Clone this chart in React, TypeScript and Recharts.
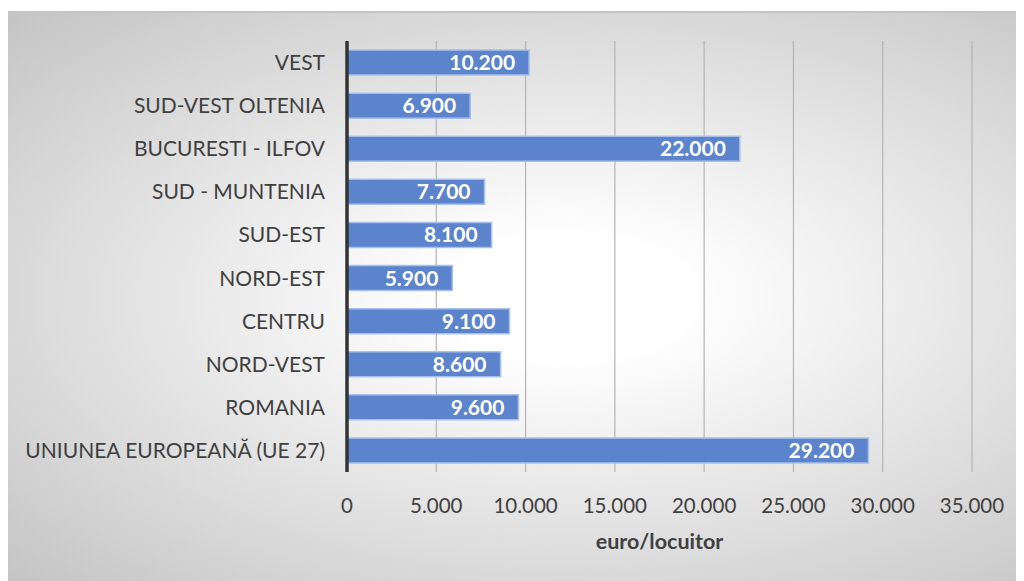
import React from 'react';
import { BarChart, Bar, XAxis, YAxis, CartesianGrid, LabelList, Label } from 'recharts';

const categories = [
  'VEST',
  'SUD-VEST OLTENIA',
  'BUCURESTI - ILFOV',
  'SUD - MUNTENIA',
  'SUD-EST',
  'NORD-EST',
  'CENTRU',
  'NORD-VEST',
  'ROMANIA',
  'UNIUNEA EUROPEANĂ (UE 27)',
];
const values = [10200, 6900, 22000, 7700, 8100, 5900, 9100, 8600, 9600, 29200];
const xTicks = [0, 5000, 10000, 15000, 20000, 25000, 30000, 35000];
const axisTitle = 'euro/locuitor';

const data = categories.map((name, i) => ({ name, value: values[i] }));

const fmt = (v: number) => {
  const s = Math.round(v).toString();
  return s.replace(/\B(?=(\d{3})+(?!\d))/g, '.');
};

const FONT = 'Lato, "Open Sans", sans-serif';

export default function App() {
  return (
    <div
      style={{
        marginTop: 3,
        width: 1020,
        height: 569,
        borderTop: '2px solid #c4c4c4',
        background: 'radial-gradient(ellipse at 55% 50%, #ffffff 15%, #c4c4c4 100%)',
        fontFamily: FONT,
      }}
    >
      <BarChart
        layout="vertical"
        width={1020}
        height={567}
        data={data}
        margin={{ top: 28, right: 56, left: 20, bottom: 48 }}
        barCategoryGap="21%"
      >
        <CartesianGrid horizontal={false} vertical={true} stroke="#b4b4b4" strokeWidth={1.2} />
        <XAxis
          type="number"
          domain={[0, 35000]}
          ticks={xTicks}
          tickFormatter={fmt}
          axisLine={false}
          tickLine={false}
          tickSize={0}
          tickMargin={26}
          height={60}
          tick={{ fill: '#404040', fontSize: 20.5, fontFamily: FONT }}
        >
          <Label
            value={axisTitle}
            position="insideBottom"
            offset={-17}
            style={{ fill: '#404040', fontSize: 21.5, fontWeight: 700, fontFamily: FONT }}
          />
        </XAxis>
        <YAxis
          type="category"
          dataKey="name"
          width={319}
          axisLine={{ stroke: '#333333', strokeWidth: 3.5 }}
          tickLine={false}
          tickSize={0}
          tickMargin={22}
          interval={0}
          tick={{ fill: '#404040', fontSize: 21, fontFamily: FONT }}
        />
        <Bar dataKey="value" fill="#5b84cc" stroke="#a9c1ea" strokeWidth={1.5} isAnimationActive={false}>
          <LabelList
            dataKey="value"
            position="insideRight"
            offset={14}
            formatter={(v: any) => fmt(Number(v))}
            style={{ fill: '#ffffff', fontSize: 21, fontWeight: 700, fontFamily: FONT }}
          />
        </Bar>
      </BarChart>
    </div>
  );
}
